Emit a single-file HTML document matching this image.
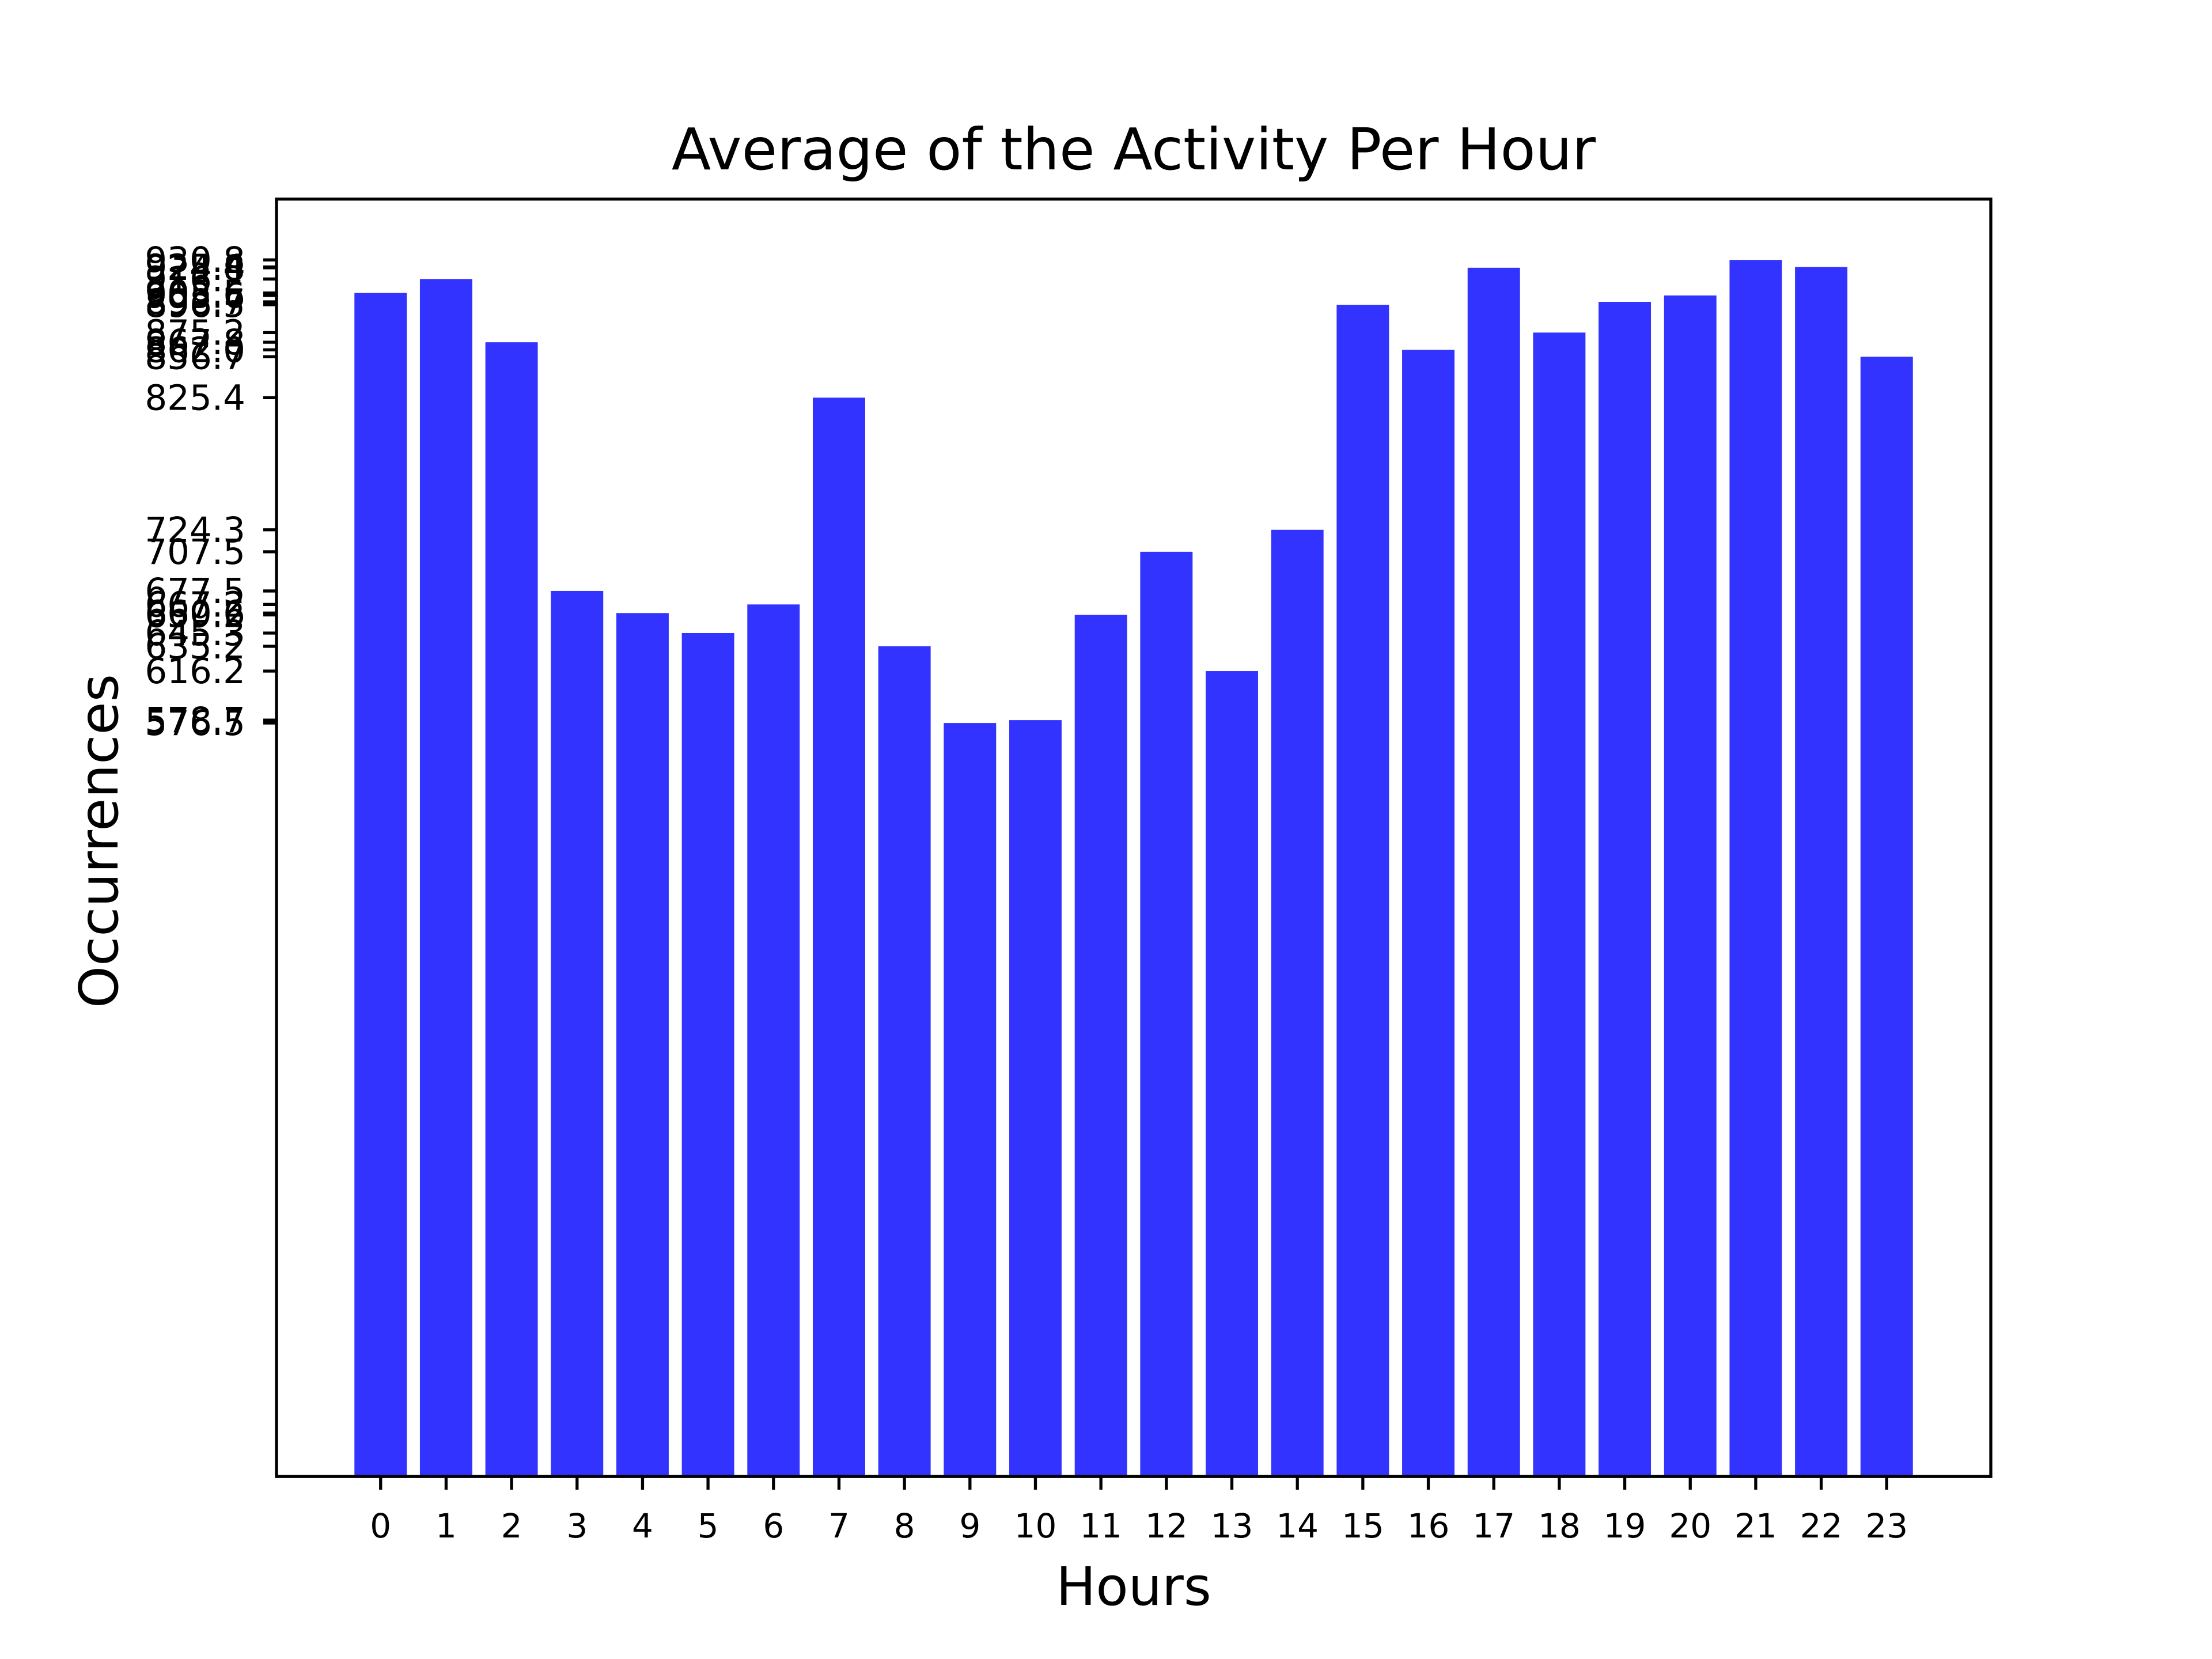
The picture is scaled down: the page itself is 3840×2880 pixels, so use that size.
<!DOCTYPE html>
<html><head><meta charset="utf-8"><style>html,body{margin:0;padding:0;background:#fff}svg{display:block}text{font-family:"DejaVu Sans","Liberation Sans",sans-serif}</style></head>
<body>
<svg id="chart" width="3840" height="2880" viewBox="0 0 3840 2880" xmlns="http://www.w3.org/2000/svg">
<rect width="3840" height="2880" fill="#fff"/>
<g id="bars"></g><g id="yticks"></g><g id="xticks"></g>
<rect x="480" y="345.6" width="2976" height="2217.6" fill="none" stroke="#000" stroke-width="5.3"/>
<text x="1968" y="294" font-size="100" text-anchor="middle">Average of the Activity Per Hour</text>
<text x="1968" y="2786" font-size="92" text-anchor="middle">Hours</text>
<text x="0" y="0" font-size="93" text-anchor="middle" transform="translate(204,1460) rotate(-90)">Occurrences</text>
</svg>
<script>
const hours = [0,1,2,3,4,5,6,7,8,9,10,11,12,13,14,15,16,17,18,19,20,21,22,23];
const values = [905.5,916.2,867.8,677.5,660.6,645.3,667.2,825.4,635.2,576.5,578.7,659.2,707.5,616.2,724.3,896.5,862.0,924.8,875.2,898.7,903.6,930.8,925.4,856.7];
const NS='http://www.w3.org/2000/svg';
const L=480,R=3456,T=345.6,B=2563.2;
const xmin=-1.59,xmax=24.59;
const ymax=Math.max(...values)*1.05;
function xs(v){return L+(v-xmin)/(xmax-xmin)*(R-L);}
function ys(v){return B-v/ymax*(B-T);}
function mk(tag,attrs,parent){const e=document.createElementNS(NS,tag);for(const k in attrs)e.setAttribute(k,attrs[k]);parent.appendChild(e);return e;}
const gb=document.getElementById('bars'),gy=document.getElementById('yticks'),gx=document.getElementById('xticks');
hours.forEach((h,i)=>{
  const v=values[i];
  const r=mk('rect',{x:xs(h-0.4),y:ys(v),width:xs(h+0.4)-xs(h-0.4),height:B-ys(v),fill:'#3333ff'},gb);
  
  
  const t=mk('line',{x1:xs(h),x2:xs(h),y1:B,y2:B+23,stroke:'#000','stroke-width':5.3},gx);
  
  
  const lb=mk('text',{x:xs(h),y:2669,'font-size':58,'text-anchor':'middle'},gx);
  lb.textContent=String(h);
  
  
  const yt=mk('line',{x1:L-23,x2:L,y1:ys(v),y2:ys(v),stroke:'#000','stroke-width':5.3},gy);
  
  
  const yl=mk('text',{x:426,y:ys(v)+21,'font-size':61,'text-anchor':'end'},gy);
  yl.textContent=v.toFixed(1);
  
  
});
</script>
</body></html>
